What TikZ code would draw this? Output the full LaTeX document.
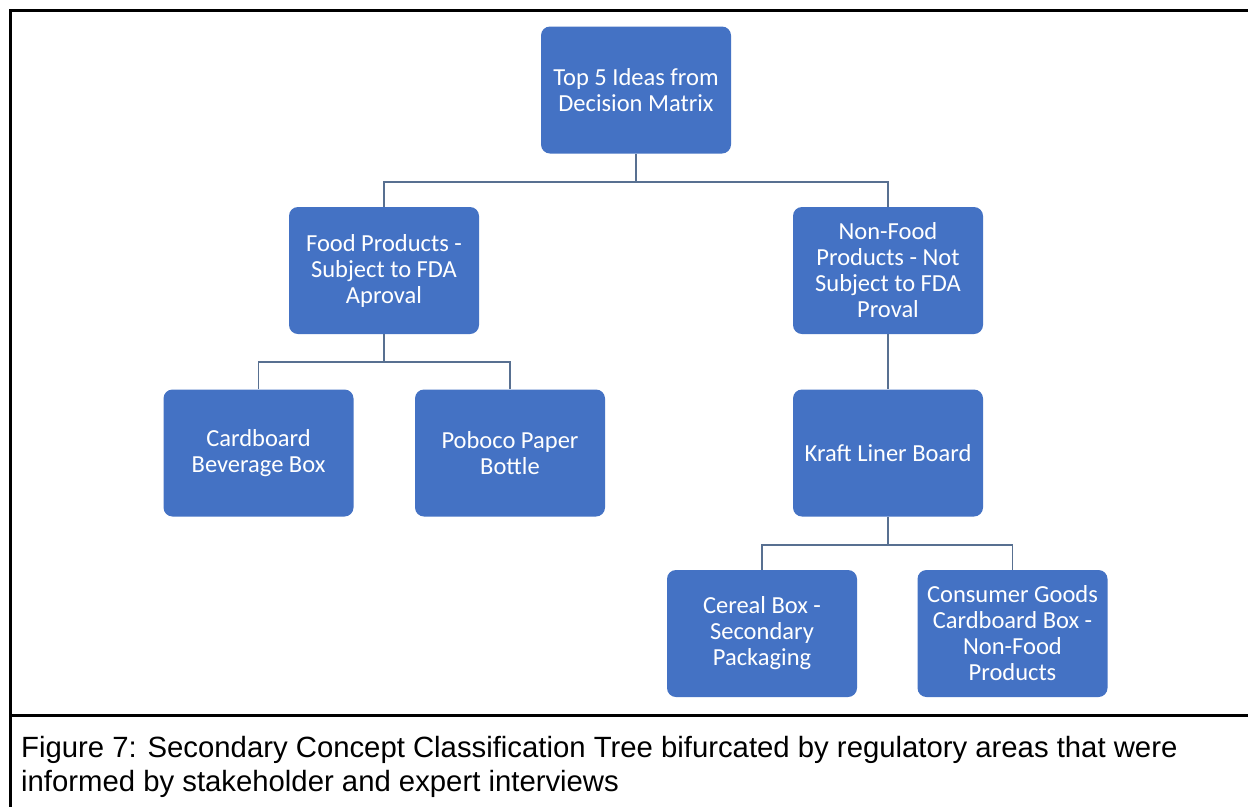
\documentclass[tikz,border=0pt]{standalone}
\usepackage{fontspec}
\setmainfont{Carlito}
\newfontfamily\capfont{Liberation Sans}
\definecolor{boxblue}{RGB}{68,114,196}
\definecolor{linkcol}{RGB}{88,112,145}
\tikzset{
  conceptbox/.style={draw=none, fill=boxblue, rounded corners=9pt, minimum width=190pt, minimum height=127pt, text=white, align=center, inner sep=2pt, font=\fontsize{24.5}{26}\selectfont},
  link/.style={draw=linkcol, line width=1.7pt},
  frame/.style={draw=black, line width=3pt},
  captext/.style={anchor=base west, inner sep=0pt, font=\capfont\fontsize{29.3}{34}\selectfont}
}
\begin{document}
\begin{tikzpicture}[x=1pt,y=-1pt]
\useasboundingbox[fill=white] (0,0) rectangle (1248,807);
% frame
\draw[frame] (9,10.5) -- (1248,10.5);
\draw[frame, line width=2.5pt] (10.5,9) -- (10.5,807);
\draw[frame, line width=3.5pt] (9,715.5) -- (1248,715.5);
% nodes
\node[conceptbox] (top) at (636,90) {Top 5 Ideas from\\Decision Matrix};
\node[conceptbox] (food) at (384,270.5) {Food Products -\\Subject to FDA\\Aproval};
\node[conceptbox] (nonfood) at (888,270.5) {Non-Food\\Products - Not\\Subject to FDA\\Proval};
\node[conceptbox] (card) at (258.5,453) {Cardboard\\Beverage Box};
\node[conceptbox] (poboco) at (510,453) {Poboco Paper\\Bottle};
\node[conceptbox] (kraft) at (888,453) {Kraft Liner Board};
\node[conceptbox] (cereal) at (762,633.5) {Cereal Box -\\Secondary\\Packaging};
\node[conceptbox] (consumer) at (1012.5,633.5) {Consumer Goods\\Cardboard Box -\\Non-Food\\Products};
% connectors
\coordinate (j1) at (636,182);
\coordinate (j2) at (384,362);
\coordinate (j3) at (888,545);
\draw[link] (top.south) -- (j1) -| (food.north);
\draw[link] (j1) -| (nonfood.north);
\draw[link] (food.south) -- (j2) -| (card.north);
\draw[link] (j2) -| (poboco.north);
\draw[link] (nonfood.south) -- (kraft.north);
\draw[link] (kraft.south) -- (j3) -| (cereal.north);
\draw[link] (j3) -| (consumer.north);
% caption
\node[captext] (cap1) at (21,757) {Figure 7: Secondary Concept Classification Tree bifurcated by regulatory areas that were};
\node[captext] (cap2) at (21,791) {informed by stakeholder and expert interviews};
\end{tikzpicture}
\end{document}
